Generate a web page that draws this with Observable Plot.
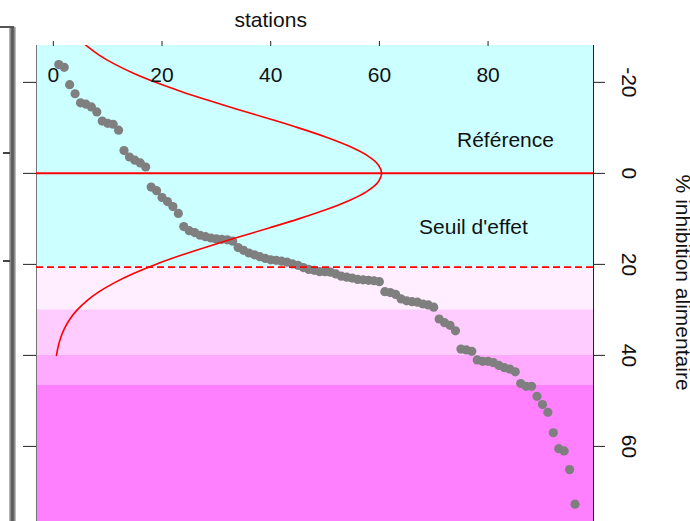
<!DOCTYPE html>
<html>
<head>
<meta charset="utf-8">
<script src="https://cdn.jsdelivr.net/npm/d3@7"></script>
<script src="https://cdn.jsdelivr.net/npm/@observablehq/plot@0.6"></script>
<style>
  body { margin: 0; background: #fff; font-family: "Liberation Sans", Arial, sans-serif; }
  #wrap { position: relative; width: 690px; height: 521px; overflow: hidden; }
  .deco { position: absolute; }
</style>
</head>
<body>
<div id="wrap">
  <div id="chart"></div>
  <div class="deco" style="left:9px;top:27px;width:7px;height:494px;background:linear-gradient(to right,#c8c8c8,#555 40%,#666 65%,#d0d0d0)"></div>
  <div class="deco" style="left:0;top:26px;width:14px;height:2px;background:#555"></div>
  <div class="deco" style="left:3px;top:152px;width:7px;height:1.5px;background:#444"></div>
  <div class="deco" style="left:3px;top:260px;width:7px;height:1.5px;background:#444"></div>
</div>
<script>
// ---- data ----
// % inhibition alimentaire per station, sorted (station rank 1..96)
const inhibition = [
  -23.9, -23.3, -19.5, -17.5, -15.5, -15.2, -14.6, -13.5, -11.5, -11.0,
  -10.8, -9.5, -5.0, -3.6, -2.9, -2.3, -1.4, 3.0, 3.8, 5.3,
  6.2, 7.3, 8.8, 11.7, 12.6, 13.0, 13.6, 13.9, 14.2, 14.4,
  14.5, 14.6, 14.9, 16.3, 16.9, 17.5, 17.9, 18.3, 18.7, 19.0,
  19.1, 19.3, 19.5, 19.9, 20.2, 20.7, 21.1, 21.3, 21.6, 21.6,
  21.7, 22.1, 22.6, 22.8, 23.0, 23.3, 23.4, 23.5, 23.6, 23.8,
  26.0, 26.2, 26.6, 27.6, 28.0, 28.2, 28.3, 28.7, 28.9, 29.4,
  32.0, 32.8, 33.4, 34.6, 38.6, 38.8, 39.1, 41.0, 41.3, 41.3,
  41.6, 42.2, 42.7, 43.0, 43.6, 46.2, 46.8, 46.8, 49.0, 50.8,
  52.5, 57.0, 60.5, 61.0, 65.1, 72.7
];

// Reference distribution curve
const curveInhibition = [-30, -28, -26, -24, -22, -20, -18, -16, -14, -12, -10, -8, -6, -4, -2, 0,
                          2, 4, 6, 8, 10, 12, 14, 16, 18, 20, 22, 24, 26, 28, 30, 32, 34, 36, 38, 40];
const curveStations = [4.39, 6.15, 8.43, 11.28, 14.74, 18.83, 23.50, 28.65, 34.12, 39.70, 45.14, 50.12, 54.38, 57.65, 59.70, 60.4,
                       59.70, 57.65, 54.38, 50.12, 45.14, 39.70, 34.12, 28.65, 23.50, 18.83, 14.74, 11.28, 8.43, 6.15, 4.39, 3.06, 2.08, 1.38, 0.90, 0.57];

// Background classes
const bandFrom   = [-40, 20.6, 30, 40, 46.5];
const bandTo     = [20.6, 30, 40, 46.5, 90];
const bandColors = ["#ccffff", "#ffeeff", "#ffccff", "#ffaaff", "#ff80ff"];

const referenceLevel = [0];
const effectThreshold = [20.6];

const xTicks = [0, 20, 40, 60, 80];
const yTicks = [-20, 0, 20, 40, 60];

const annotations = ["Référence", "Seuil d'effet"];

// ---- tables built from the arrays ----
const stations = inhibition.map((v, i) => ({rank: i + 1, value: v}));
const curve = curveInhibition.map((v, i) => ({value: v, n: curveStations[i]}));
const bands = bandFrom.map((f, i) => ({from: f, to: bandTo[i], color: bandColors[i]}));

const xDomain = [-3.1, 99.4];
const yDomain = [-28.1, 76.5];
const font = "Liberation Sans, Arial, sans-serif";
const txt = {fontSize: 21, fill: "#111", textAnchor: "middle", lineAnchor: "middle"};

const chart = Plot.plot({
  width: 690,
  height: 521,
  marginTop: 45,
  marginRight: 97,
  marginBottom: 0,
  marginLeft: 36,
  style: {fontFamily: font, background: "white", color: "#111"},
  x: {domain: xDomain, axis: null},
  y: {domain: yDomain, reverse: true, axis: null},
  color: {type: "identity"},
  marks: [
    Plot.rect(bands, {y1: "from", y2: "to", fill: "color", clip: true}),
    Plot.ruleX([xDomain[0]], {stroke: "#777", strokeWidth: 1}),
    Plot.ruleX([xDomain[1]], {stroke: "#222", strokeWidth: 1}),
    Plot.dot(stations, {x: "rank", y: "value", r: 4.6, fill: "#7f7f7f", stroke: "none"}),
    Plot.ruleY(referenceLevel, {stroke: "#ff0000", strokeWidth: 2}),
    Plot.ruleY(effectThreshold, {stroke: "#ff0000", strokeWidth: 1.6, strokeDasharray: "7,4"}),
    Plot.line(curve, {x: "n", y: "value", stroke: "#ff0000", strokeWidth: 1.6, curve: "catmull-rom", clip: true}),
    // top axis (stations)
    Plot.axisX(xTicks, {anchor: "top", tickSize: 5, tickFormat: () => "", label: null, stroke: "#222"}),
    Plot.text(xTicks, {...txt, x: d => d, frameAnchor: "top", dy: 30, text: d => String(d)}),
    Plot.text(["stations"], {...txt, x: 40, frameAnchor: "top", dy: -25}),
    // left ticks (unlabelled)
    Plot.axisY(yTicks, {anchor: "left", tickSize: 13, tickFormat: () => "", label: null, stroke: "#222"}),
    // right axis
    Plot.axisY(yTicks, {anchor: "right", tickSize: 11, tickFormat: () => "", label: null, stroke: "#222"}),
    Plot.text(yTicks, {...txt, y: d => d, frameAnchor: "right", dx: 35, rotate: 90, text: d => String(d)}),
    Plot.text(["% inhibition alimentaire"], {...txt, y: 24, frameAnchor: "right", dx: 89, rotate: 90}),
    // annotations
    Plot.text([annotations[0]], {...txt, x: 83.2, y: -7.3}),
    Plot.text([annotations[1]], {...txt, x: 77.3, y: 11.8})
  ]
});
document.getElementById("chart").appendChild(chart);
</script>
</body>
</html>
